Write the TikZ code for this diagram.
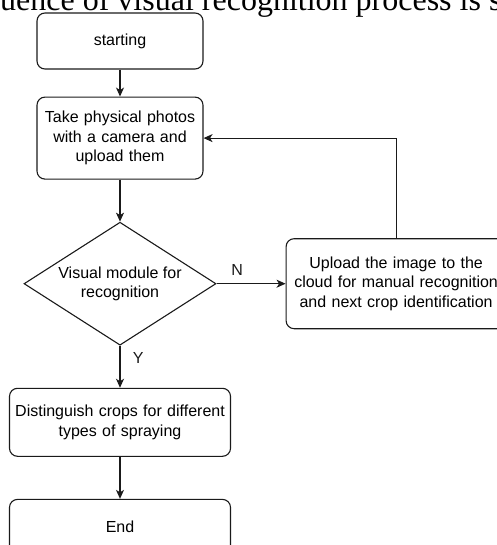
\documentclass[tikz,border=0pt]{standalone}
\usepackage{fontspec}
\setmainfont{Liberation Sans}
\newfontfamily\serifcut{Liberation Serif}
\usepackage{tikz}
\usetikzlibrary{shapes.geometric, arrows.meta, positioning}
\definecolor{linegray}{HTML}{1A1A1A}
\tikzstyle{process} = [rectangle, rounded corners=8pt, minimum width=166pt, text width=160pt, inner sep=3pt, align=center, draw=linegray, line width=1.1pt, font=\fontsize{16}{19.5}\selectfont]
\tikzstyle{decision} = [diamond, aspect=1.56, minimum width=192pt, minimum height=123pt, inner sep=0pt, align=center, draw=linegray, line width=1.1pt, font=\fontsize{16}{19.5}\selectfont]
\tikzstyle{arrow} = [line width=1.1pt, linegray, -{Stealth[length=9pt, width=8pt, inset=2.5pt]}]
\tikzstyle{flag} = [font=\fontsize{16}{19.5}\selectfont]

\begin{document}
\begin{tikzpicture}[node distance=42pt and 69pt, >=Stealth]
    \useasboundingbox (0,0) rectangle (496pt,-545pt);

    % Cut-off line of the page text
    \node (caption) [anchor=base west, inner sep=0pt, font=\serifcut\fontsize{32}{38}\selectfont] at (0pt,-11pt) {uence of visual recognition process is s};

    % Nodes
    \node (start) [process, minimum height=56pt] at (120pt,-41pt) {starting};
    \node (photos) [process, minimum height=82pt, below=27pt of start] {Take physical photos\\with a camera and\\upload them};
    \node (module) [decision, below=of photos] {Visual module for\\recognition};
    \node (upload) [process, minimum width=220pt, text width=214pt, minimum height=90pt, right=of module] {Upload the image to the\\cloud for manual recognition\\and next crop identification};
    \node (spray) [process, minimum width=221pt, text width=215pt, minimum height=68pt, below=of module] {Distinguish crops for different\\types of spraying};
    \node (finish) [process, minimum width=221pt, text width=215pt, minimum height=54pt, below=of spray] {End};

    % Flow arrows
    \draw [arrow] (start) -- (photos);
    \draw [arrow] (photos) -- (module);
    \draw [arrow] (module) -- node[flag, pos=0.3, above, yshift=4pt] {N} (upload);
    \draw [arrow] (upload.north) |- (photos.east);
    \draw [arrow] (module) -- node[flag, pos=0.3, right=9pt] {Y} (spray);
    \draw [arrow] (spray) -- (finish);

\end{tikzpicture}
\end{document}
